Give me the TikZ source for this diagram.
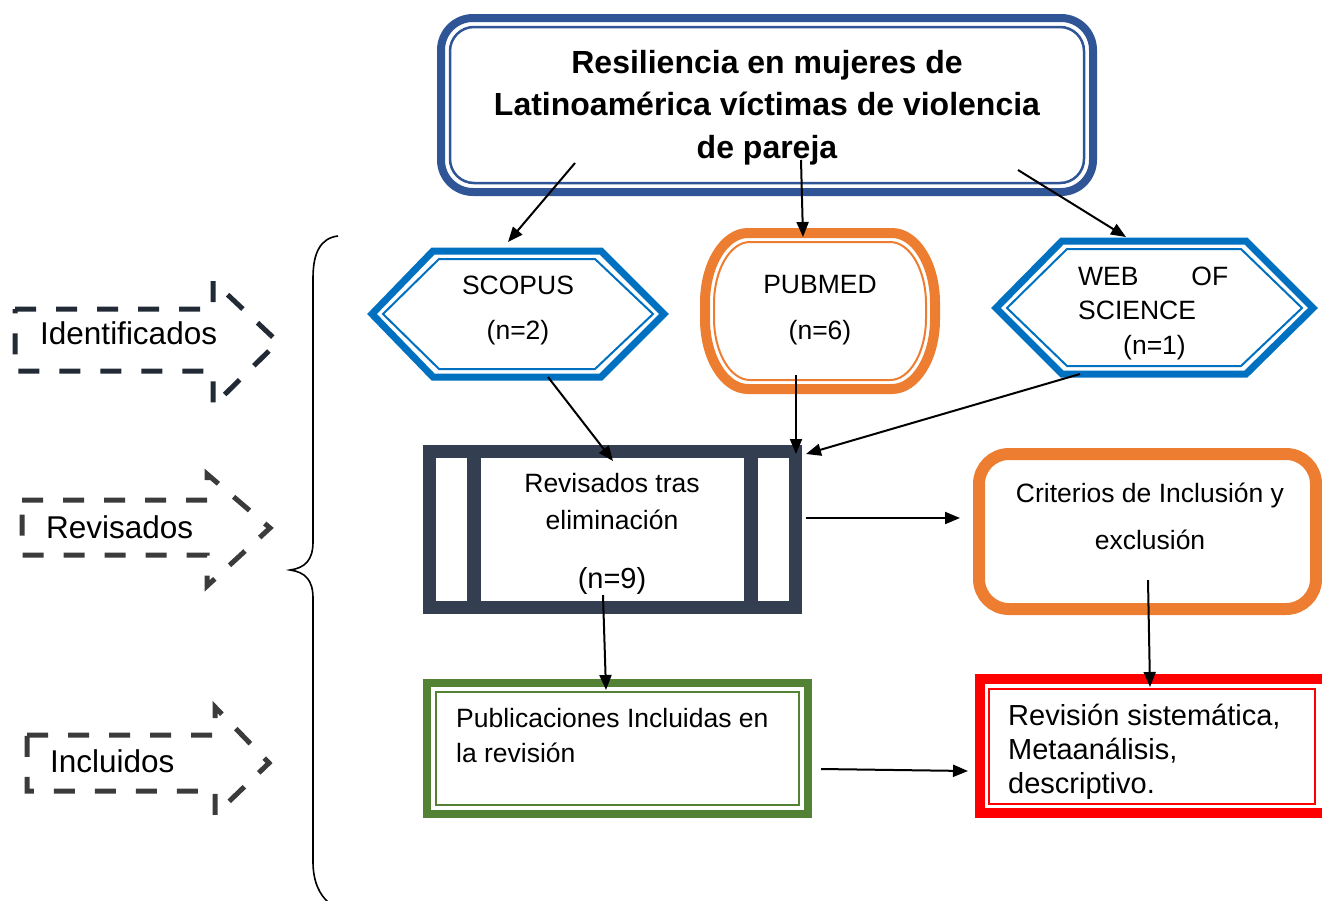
\documentclass[tikz,border=0pt]{standalone}
\usepackage{fontspec}
\setmainfont{Liberation Sans}
\usetikzlibrary{arrows.meta}
\definecolor{tblue}{HTML}{2F5597}
\definecolor{hblue}{HTML}{0070C0}
\definecolor{orng}{HTML}{ED7D31}
\definecolor{slate}{HTML}{333F50}
\definecolor{grn}{HTML}{548235}
\definecolor{rd}{HTML}{FF0000}
\definecolor{dash1}{HTML}{222A35}
\definecolor{dash2}{HTML}{3B3B3B}
\tikzset{
  txt/.style={inner sep=0pt, text=black},
  arr/.style={line width=2pt, -{Triangle[length=15pt,width=12pt]}},
  dasharrow/.style={line width=5pt, dash pattern=on 21pt off 20pt, line join=miter}
}
\begin{document}
\begin{tikzpicture}[x=1pt,y=-1pt]
\useasboundingbox (0,0) rectangle (1322,900);

% ---- title box
\draw[tblue,line width=8pt,rounded corners=32pt] (441,18) rectangle (1093,192);
\draw[tblue,line width=2.5pt,rounded corners=24pt] (450,27) rectangle (1084,183);
\node[txt,align=center,font=\bfseries\fontsize{32}{42.5}\selectfont] (title) at (767,107.6)
  {Resiliencia en mujeres de\\Latinoamérica víctimas de violencia\\de pareja};

% ---- SCOPUS hexagon
\draw[hblue,line width=7pt,line join=miter] (372,314) -- (433,251) -- (601,251) -- (664,314) -- (601,377) -- (433,377) -- cycle;
\draw[hblue,line width=2pt] (383,314) -- (439,259) -- (595,259) -- (653,314) -- (595,369) -- (439,369) -- cycle;
\node[txt,align=center,font=\fontsize{26.5}{45}\selectfont] (scopus) at (518,310) {SCOPUS\\(n=2)};

% ---- PUBMED rounded shape
\draw[orng,line width=10pt]
  (748,233) -- (892,233) arc[start angle=-90,end angle=0,x radius=43,y radius=70]
  -- (935,319) arc[start angle=0,end angle=90,x radius=43,y radius=70]
  -- (748,389) arc[start angle=90,end angle=180,x radius=43,y radius=70]
  -- (705,303) arc[start angle=180,end angle=270,x radius=43,y radius=70] -- cycle;
\draw[orng,line width=2pt]
  (750,242) -- (890,242) arc[start angle=-90,end angle=0,x radius=36,y radius=62]
  -- (926,318) arc[start angle=0,end angle=90,x radius=36,y radius=62]
  -- (750,380) arc[start angle=90,end angle=180,x radius=36,y radius=62]
  -- (714,304) arc[start angle=180,end angle=270,x radius=36,y radius=62] -- cycle;
\node[txt,align=center,font=\fontsize{26.5}{46}\selectfont] (pubmed) at (820,309.7) {PUBMED\\(n=6)};

% ---- WEB OF SCIENCE hexagon
\draw[hblue,line width=7pt,line join=miter] (996,308) -- (1062,241) -- (1246,241) -- (1313,308) -- (1246,374) -- (1062,374) -- cycle;
\draw[hblue,line width=2pt] (1007,308) -- (1067,249) -- (1241,249) -- (1302,308) -- (1241,366) -- (1067,366) -- cycle;
\node[txt,align=left,anchor=west,font=\fontsize{26.5}{34.5}\selectfont] (wos) at (1078,313)
  {\makebox[150pt][s]{WEB\hfill OF}\\SCIENCE\\\hspace*{45pt}(n=1)};

% ---- Revisados box
\draw[slate,line width=13pt] (429.5,451.5) rectangle (795.5,607.5);
\draw[slate,line width=14pt] (474,451.5) -- (474,607.5);
\draw[slate,line width=14pt] (751,451.5) -- (751,607.5);
\node[txt,align=center,font=\fontsize{26.5}{37}\selectfont] (revis) at (612,501.4) {Revisados tras\\eliminación};
\node[txt,font=\fontsize{29}{34}\selectfont] (nnine) at (612,581) {(n=9)};

% ---- Criterios box
\draw[orng,line width=12pt,rounded corners=30pt] (979,454) rectangle (1316,609);
\node[txt,align=center,font=\fontsize{26.5}{47}\selectfont] (crit) at (1150,516.4) {Criterios de Inclusión y\\exclusión};

% ---- Publicaciones box
\draw[grn,line width=8pt] (427,683) rectangle (808,814);
\draw[grn,line width=2pt] (436,692) rectangle (799,805);
\node[txt,align=left,anchor=west,font=\fontsize{26.5}{35}\selectfont] (publ) at (456,735.4) {Publicaciones Incluidas en\\la revisión};

% ---- Revision sistematica box
\draw[rd,line width=10pt] (980,679) rectangle (1330,813);
\draw[rd,line width=2pt] (989,689) rectangle (1315,804);
\node[txt,align=left,anchor=west,font=\fontsize{29}{34}\selectfont] (revsis) at (1008,751.9) {Revisión sistemática,\\Metaanálisis,\\descriptivo.};

% ---- dashed arrows
\draw[dash1,dasharrow] (15,309) -- (213,309) -- (213,281) -- (278,342) -- (213,406) -- (213,371) -- (15,371) -- cycle;
\node[txt,anchor=west,font=\fontsize{31.5}{36}\selectfont] (lab1) at (40,333) {Identificados};
\draw[dash2,dasharrow] (22,500) -- (207,500) -- (207,474) -- (270,528) -- (207,586) -- (207,555) -- (22,555) -- cycle;
\node[txt,anchor=west,font=\fontsize{31.5}{36}\selectfont] (lab2) at (46,527) {Revisados};
\draw[dash2,dasharrow] (27,735) -- (215,735) -- (215,707) -- (269,763) -- (215,815) -- (215,791) -- (27,791) -- cycle;
\node[txt,anchor=west,font=\fontsize{31.5}{36}\selectfont] (lab3) at (50,761) {Incluidos};

% ---- brace
\draw[line width=1.6pt] (338,236) .. controls (321,238) and (313,252) .. (313,278)
  -- (313,542) .. controls (313,560) and (305,568) .. (290,570)
  .. controls (305,572) and (313,580) .. (313,598)
  -- (313,862) .. controls (313,882) and (320,895) .. (328,902);

% ---- connectors
\coordinate (t1) at (575,163); \coordinate (s1) at (508,242);
\coordinate (t2) at (801,160); \coordinate (p1) at (803,237);
\coordinate (t3) at (1018,170); \coordinate (w1) at (1126,237);
\coordinate (s2) at (548,377); \coordinate (r1) at (613,461);
\coordinate (p2) at (796,375); \coordinate (r2) at (796,454);
\coordinate (w2) at (1080,374); \coordinate (r3) at (806,454);
\coordinate (r4) at (806,518); \coordinate (c1) at (960,518);
\coordinate (r5) at (603,595); \coordinate (u1) at (606,690);
\coordinate (u2) at (821,769); \coordinate (v1) at (968,771);
\coordinate (c2) at (1148,580); \coordinate (v2) at (1150,687);
\draw[arr] (t1) -- (s1);
\draw[arr] (t2) -- (p1);
\draw[arr] (t3) -- (w1);
\draw[arr] (s2) -- (r1);
\draw[arr] (p2) -- (r2);
\draw[arr] (w2) -- (r3);
\draw[arr] (r4) -- (c1);
\draw[arr] (r5) -- (u1);
\draw[arr] (u2) -- (v1);
\draw[arr] (c2) -- (v2);
\end{tikzpicture}
\end{document}
